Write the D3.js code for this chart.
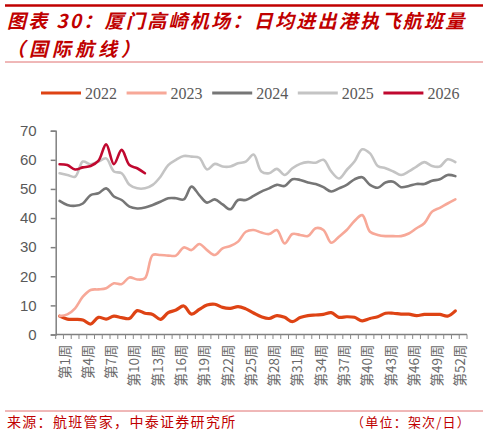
<!DOCTYPE html>
<html>
<head>
<meta charset="utf-8">
<script src="https://cdn.jsdelivr.net/npm/d3@7"></script>
<style>
  body { margin: 0; background: #fff; }
  svg { display: block; }
</style>
</head>
<body>
<div id="chart"></div>
<script>
var width = 488;
var height = 435;

// weeks on the x axis (53 slots, data has 52)
var weeks = d3.range(1, 54);
var tickWeeks = [1, 4, 7, 10, 13, 16, 19, 22, 25, 28, 31, 34, 37, 40, 43, 46, 49, 52];
var yTicks = [0, 10, 20, 30, 40, 50, 60, 70];
var years = ["2022", "2023", "2024", "2025", "2026"];

var s2022 = [6.3, 5.3, 5.2, 5.0, 3.6, 5.9, 5.3, 6.3, 5.8, 5.5, 8.2, 7.3, 6.9, 5.2, 7.5, 8.4, 9.8, 7.0, 8.6, 10.1,
             10.4, 9.3, 9.0, 9.6, 8.8, 7.4, 6.1, 5.5, 6.5, 5.9, 4.4, 5.8, 6.5, 6.7, 6.9, 7.5, 5.9, 6.1, 5.9, 4.7,
             5.5, 6.1, 7.3, 7.3, 7.0, 7.0, 6.5, 6.9, 6.9, 6.9, 6.3, 8.1];
var s2023 = [6.3, 6.9, 9.0, 13.0, 15.3, 15.5, 15.9, 17.6, 17.3, 19.6, 18.9, 19.3, 27.3, 27.3, 27.1, 27.1, 29.9, 29.0, 31.1, 29.0,
             27.3, 29.6, 30.4, 31.9, 35.3, 35.9, 35.0, 34.5, 35.9, 31.3, 34.5, 34.2, 33.8, 36.5, 35.9, 31.5, 33.6, 35.9, 39.0, 41.0,
             35.3, 34.2, 33.8, 33.8, 33.8, 34.7, 36.5, 38.2, 42.2, 43.5, 45.0, 46.4];
var s2024 = [45.9, 44.5, 44.2, 45.0, 47.9, 48.5, 50.2, 47.4, 46.2, 43.9, 43.3, 43.6, 44.5, 45.6, 46.8, 46.8, 46.4, 50.8, 47.9, 45.3,
             46.4, 44.7, 43.0, 46.2, 46.2, 47.6, 49.1, 50.2, 51.4, 51.0, 53.3, 53.1, 52.2, 51.7, 50.6, 49.1, 50.2, 51.4, 53.3, 54.0,
             51.4, 50.4, 52.2, 52.5, 50.6, 51.0, 51.7, 51.7, 52.8, 53.3, 54.8, 54.4];
var s2025 = [55.4, 54.8, 54.2, 59.4, 58.5, 59.4, 60.5, 56.0, 55.4, 51.4, 50.2, 50.2, 51.4, 54.2, 58.2, 60.0, 61.3, 61.1, 60.7, 56.7,
             58.6, 57.7, 57.7, 58.8, 59.4, 61.8, 56.0, 55.4, 56.9, 54.8, 57.1, 58.6, 59.2, 59.0, 60.0, 56.0, 53.6, 56.5, 59.4, 63.6,
             62.2, 57.9, 57.1, 56.0, 54.8, 56.0, 57.7, 59.2, 57.9, 57.7, 60.2, 59.2];
var s2026 = [58.5, 58.2, 56.7, 57.4, 57.9, 59.6, 65.3, 58.5, 63.4, 58.2, 57.1, 55.4];

var seriesList = [
  {name: "2022", values: s2022, color: "#de4314", w: 3.2},
  {name: "2023", values: s2023, color: "#f7a898", w: 2.6},
  {name: "2024", values: s2024, color: "#767676", w: 2.6},
  {name: "2025", values: s2025, color: "#c4c4c4", w: 2.6},
  {name: "2026", values: s2026, color: "#c0082f", w: 2.6}
];

var svg = d3.select("#chart").append("svg")
  .attr("width", width).attr("height", height);

var red = "#c00000";

// header
svg.append("line").attr("x1", 5).attr("x2", 483).attr("y1", 5.5).attr("y2", 5.5)
  .attr("stroke", red).attr("stroke-width", 2.5);

var titleFont = "'Noto Sans CJK SC', 'Noto Sans', sans-serif";
svg.append("text").attr("x", 7).attr("y", 28)
  .attr("fill", red).style("font-family", titleFont).style("font-size", "19px")
  .style("font-weight", "bold").style("font-style", "italic").style("letter-spacing", "2.3px")
  .text("图表 30：厦门高崎机场：日均进出港执飞航班量");
svg.append("text").attr("x", 6).attr("y", 55.6)
  .attr("fill", red).style("font-family", titleFont).style("font-size", "19px")
  .style("font-weight", "bold").style("font-style", "italic").style("letter-spacing", "4px")
  .text("（国际航线）");

svg.append("line").attr("x1", 5).attr("x2", 483).attr("y1", 62).attr("y2", 62)
  .attr("stroke", "#e07070").attr("stroke-width", 1);

// legend
var legend = svg.append("g").attr("transform", "translate(41,93)");
var item = legend.selectAll("g").data(seriesList).enter().append("g")
  .attr("transform", function(d, i) { return "translate(" + (i * 85.6) + ",0)"; });
item.append("line").attr("x1", 0).attr("x2", 40).attr("y1", 0).attr("y2", 0)
  .attr("stroke", function(d) { return d.color; }).attr("stroke-width", 3);
item.append("text").attr("x", 44).attr("y", 5.5)
  .attr("fill", "#595959").style("font-family", "'Liberation Serif', serif").style("font-size", "16px")
  .text(function(d) { return d.name; });

// scales
var x = d3.scaleBand().domain(weeks).range([55.7, 467]).padding(0);
var y = d3.scaleLinear().domain([0, 70]).range([334.5, 130.7]);
function cx(w) { return x(w) + x.bandwidth() / 2; }

// y axis
var yAxis = svg.append("g").attr("transform", "translate(55.7,0)")
  .call(d3.axisLeft(y).tickValues(yTicks).tickSize(5).tickPadding(14));
yAxis.select(".domain").attr("stroke", "#808080").attr("stroke-width", 1.5);
yAxis.selectAll(".tick line").attr("stroke", "#808080").attr("stroke-width", 1.5);
yAxis.selectAll(".tick text").attr("fill", "#595959")
  .style("font-family", "'Liberation Sans', Arial, sans-serif").style("font-size", "15px");

// x axis with ticks at every category boundary
var xg = svg.append("g");
xg.append("line").attr("x1", 55.7).attr("x2", 467).attr("y1", y(0)).attr("y2", y(0))
  .attr("stroke", "#808080").attr("stroke-width", 1.5);
xg.selectAll("line.tk").data(weeks.concat([54])).enter().append("line").attr("class", "tk")
  .attr("x1", function(d) { return d === 54 ? 467 : x(d); })
  .attr("x2", function(d) { return d === 54 ? 467 : x(d); })
  .attr("y1", y(0)).attr("y2", y(0) + 4.5)
  .attr("stroke", "#8a8a8a").attr("stroke-width", 1);
xg.selectAll("text").data(tickWeeks).enter().append("text")
  .attr("transform", function(d) { return "translate(" + (cx(d) + 4) + "," + (y(0) + 10) + ") rotate(-90)"; })
  .attr("text-anchor", "end").attr("dominant-baseline", "central")
  .attr("fill", "#6a6a6a")
  .style("font-family", "'Noto Sans CJK SC', sans-serif").style("font-size", "13.5px")
  .text(function(d) { return "第" + d + "周"; });

// lines
var line = d3.line()
  .x(function(d, i) { return cx(i + 1); })
  .y(function(d) { return y(d); })
  .curve(d3.curveCatmullRom.alpha(0.5));

svg.selectAll("path.series").data(seriesList).enter().append("path")
  .attr("class", "series")
  .attr("d", function(d) { return line(d.values); })
  .attr("fill", "none")
  .attr("stroke", function(d) { return d.color; })
  .attr("stroke-width", function(d) { return d.w; })
  .attr("stroke-linejoin", "round").attr("stroke-linecap", "round");

// footer
svg.append("line").attr("x1", 5).attr("x2", 483).attr("y1", 411).attr("y2", 411)
  .attr("stroke", "#e07070").attr("stroke-width", 1);
svg.append("text").attr("x", 7).attr("y", 427)
  .attr("fill", red).style("font-family", titleFont).style("font-size", "14px").style("letter-spacing", "1.3px")
  .text("来源：航班管家，中泰证券研究所");
svg.append("text").attr("x", 471).attr("y", 427).attr("text-anchor", "end")
  .attr("fill", red).style("font-family", titleFont).style("font-size", "13px").style("letter-spacing", "1.2px")
  .text("（单位：架次/日）");
</script>
</body>
</html>
